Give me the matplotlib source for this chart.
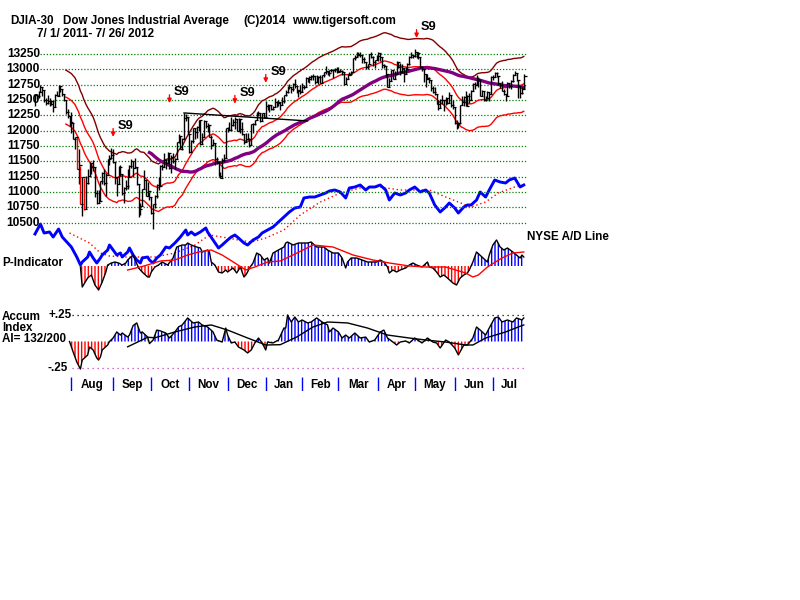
import numpy as np
import pandas as pd
import matplotlib
matplotlib.use("Agg")
import matplotlib.pyplot as plt

plt.rcParams['font.family'] = ['Liberation Sans', 'DejaVu Sans']
plt.rcParams['font.weight'] = 'bold'
plt.rcParams['hatch.linewidth'] = 1.0

# ---- daily DJIA bars, 7/1/2011 .. 7/26/2012 (trading-day index 0..269) ----
close = [
    12582, 12570, 12626, 12719, 12657, 12505, 12446, 12491, 12437, 12479, 12385, 12587, 12572, 12724, 12681, 12592, 12501, 12303, 12240, 12143,
    12132, 11866, 11896, 11383, 11444, 10810, 11239, 10719, 11143, 11269, 11482, 11406, 11410, 10990, 10817, 10854, 11176, 11320, 11150, 11284, 11539, 11560, 11613,
    11494, 11240, 11139, 11414, 11295, 10992, 11062, 11106, 11247, 11433, 11509, 11401, 11408, 11125, 10733, 10771, 11044, 11191, 10939, 11011, 10913,
    10655, 10809, 10940, 11124, 11103, 11433, 11417, 11519, 11479, 11645, 11397, 11578, 11505, 11542, 11809, 11913, 11707, 11869, 12209, 12231, 11955,
    11658, 11836, 12044, 11983, 12069, 12170, 11781, 11894, 12153, 12079, 12096, 11906, 11771, 11796, 11548, 11494, 11258, 11231, 11523, 11556, 12046,
    12020, 12019, 12098, 12150, 12196, 11997, 12184, 12021, 11955, 11824, 11869, 11866, 11766, 12103, 12108, 12170, 12295, 12292, 12151, 12288, 12218,
    12398, 12418, 12415, 12360, 12392, 12462, 12450, 12471, 12422, 12482, 12578, 12624, 12720, 12709, 12676, 12758, 12735, 12660, 12653, 12633,
    12716, 12706, 12862, 12845, 12878, 12884, 12891, 12801, 12874, 12878, 12781, 12904, 12950, 12966, 12938, 12985, 12983, 12982, 13005, 12952,
    12980, 12978, 12963, 12759, 12838, 12908, 12923, 12960, 13177, 13194, 13253, 13233, 13240, 13170, 13125, 13046, 13081, 13242, 13197, 13127, 13146, 13212,
    13264, 13199, 13075, 13060, 12930, 12716, 12806, 12987, 12850, 12921, 13116, 13033, 12965, 13029, 12928, 13002, 13091, 13205, 13229, 13214,
    13280, 13268, 13207, 13038, 13009, 12932, 12835, 12855, 12821, 12695, 12633, 12599, 12443, 12369, 12504, 12502, 12496, 12530, 12455, 12581, 12420, 12393,
    12119, 12102, 12127, 12415, 12461, 12554, 12411, 12574, 12497, 12651, 12767, 12742, 12838, 12824, 12574, 12641, 12503, 12535, 12628, 12602, 12880,
    12871, 12943, 12896, 12773, 12737, 12653, 12605, 12574, 12777, 12727, 12806, 12909, 12943, 12823, 12722, 12618, 12677, 12888,
]
high = [
    12600, 12600, 12650, 12753, 12719, 12657, 12540, 12580, 12530, 12500, 12480, 12600, 12640, 12750, 12730, 12681, 12600, 12500, 12350, 12240,
    12300, 12130, 11904, 11896, 11700, 11433, 11244, 11237, 11270, 11370, 11490, 11480, 11530, 11410, 11030, 11040, 11180, 11330, 11380, 11310, 11540, 11600, 11720,
    11700, 11494, 11240, 11420, 11450, 11295, 11080, 11190, 11380, 11440, 11540, 11509, 11550, 11410, 11125, 10830, 11050, 11360, 11200, 11160, 11010,
    10913, 10810, 10950, 11130, 11250, 11440, 11460, 11630, 11520, 11650, 11645, 11610, 11640, 11560, 11820, 11940, 11913, 11880, 12284, 12270, 12231,
    11955, 11850, 12050, 12044, 12080, 12180, 12170, 11960, 12180, 12153, 12130, 12096, 11930, 11860, 11796, 11580, 11494, 11330, 11560, 11620, 12050,
    12060, 12150, 12230, 12190, 12220, 12196, 12210, 12184, 12140, 11955, 11960, 11960, 11880, 12110, 12130, 12180, 12300, 12320, 12292, 12290, 12288,
    12480, 12430, 12420, 12415, 12400, 12530, 12480, 12500, 12471, 12550, 12590, 12660, 12730, 12760, 12710, 12770, 12840, 12735, 12660, 12750,
    12780, 12740, 12880, 12862, 12890, 12900, 12930, 12891, 12900, 12890, 12900, 12910, 12960, 13050, 12966, 12990, 13000, 13000, 13020, 13040,
    13040, 13000, 12990, 12963, 12870, 12930, 12960, 12970, 13190, 13230, 13290, 13290, 13280, 13240, 13200, 13125, 13090, 13250, 13290, 13210, 13150, 13230,
    13290, 13270, 13199, 13090, 13060, 12930, 12860, 12990, 12987, 12980, 13130, 13116, 13100, 13090, 13029, 13040, 13110, 13220, 13280, 13229,
    13338, 13280, 13290, 13207, 13060, 13009, 12932, 12920, 12880, 12821, 12730, 12710, 12599, 12500, 12510, 12580, 12502, 12550, 12530, 12630, 12581, 12500,
    12393, 12170, 12140, 12420, 12560, 12560, 12650, 12580, 12620, 12670, 12780, 12790, 12900, 12870, 12830, 12660, 12641, 12560, 12650, 12628, 12890,
    12900, 12950, 12960, 12896, 12780, 12810, 12680, 12605, 12790, 12777, 12830, 12930, 12980, 12943, 12823, 12722, 12720, 12930,
]
low = [
    12398, 12520, 12530, 12626, 12560, 12470, 12420, 12440, 12400, 12420, 12300, 12385, 12560, 12570, 12630, 12570, 12490, 12280, 12210, 12070,
    11970, 11860, 11700, 11383, 11140, 10810, 10604, 10711, 10720, 11140, 11270, 11290, 11350, 10920, 10800, 10820, 10850, 11140, 11120, 10930, 11290, 11450, 11560,
    11480, 11140, 10930, 11140, 11260, 10960, 10820, 11030, 11050, 11240, 11400, 11250, 11390, 11120, 10600, 10620, 10770, 11044, 10935, 10930, 10880,
    10650, 10404, 10740, 10900, 11040, 11103, 11360, 11417, 11370, 11480, 11370, 11320, 11470, 11380, 11542, 11800, 11700, 11680, 11870, 12160, 11950,
    11640, 11658, 11800, 11870, 11880, 12000, 11770, 11781, 11894, 12050, 11980, 11900, 11700, 11760, 11450, 11460, 11255, 11230, 11231, 11490, 11556,
    11980, 12010, 12019, 12070, 12030, 11990, 11997, 11960, 11930, 11790, 11824, 11850, 11740, 11766, 11970, 12100, 12170, 12240, 12140, 12151, 12210,
    12218, 12330, 12300, 12330, 12340, 12392, 12390, 12400, 12330, 12422, 12460, 12570, 12610, 12680, 12620, 12640, 12700, 12620, 12550, 12600,
    12633, 12680, 12706, 12800, 12780, 12830, 12830, 12760, 12801, 12760, 12770, 12781, 12880, 12930, 12900, 12890, 12950, 12860, 12950, 12940,
    12952, 12950, 12910, 12740, 12759, 12838, 12900, 12900, 12960, 13150, 13194, 13220, 13200, 13110, 13110, 13000, 13010, 13081, 13190, 13060, 13030, 13146,
    13140, 13130, 13030, 13020, 12880, 12710, 12716, 12806, 12840, 12850, 12921, 13020, 12910, 12965, 12800, 12928, 13002, 13070, 13180, 13180,
    13200, 13180, 13170, 13030, 12980, 12800, 12710, 12835, 12780, 12640, 12610, 12580, 12440, 12340, 12369, 12440, 12320, 12420, 12430, 12455, 12380, 12350,
    12110, 12035, 12050, 12127, 12415, 12400, 12400, 12411, 12460, 12497, 12651, 12680, 12742, 12720, 12560, 12574, 12490, 12480, 12535, 12490, 12602,
    12820, 12871, 12880, 12740, 12700, 12640, 12580, 12490, 12574, 12700, 12680, 12790, 12900, 12810, 12540, 12530, 12600, 12677,
]
big_drop_days = [23, 25, 27]

month_names = ["Aug", "Sep", "Oct", "Nov", "Dec", "Jan", "Feb", "Mar", "Apr", "May", "Jun", "Jul"]
month_starts = [20, 43, 64, 85, 106, 127, 147, 167, 189, 209, 231, 252]

price_levels = list(range(10500, 13251, 250))

signal_days = [43, 74, 110, 127, 210]
signal_tips = [11900, 12450, 12440, 12780, 13510]
trend_days = [82, 150]
trend_prices = [12290, 12160]

# NYSE A/D line (arbitrary units) and its dotted average
ad_days = [0, 3, 5, 8, 10, 13, 15, 18, 20, 23, 25, 26, 29, 30, 32, 34, 36, 37, 40, 41, 43, 45, 47, 48, 51, 52, 54, 56,
           58, 59, 62, 63, 65, 67, 69, 72, 74, 77, 80, 83, 84, 86, 88, 91, 94, 95, 98, 101, 103, 106, 108, 110, 112,
           115, 117, 120, 123, 125, 128, 131, 134, 137, 140, 143, 146, 148, 151, 154, 157, 160, 162, 165, 168, 171,
           173, 176, 179, 182, 184, 187, 190, 193, 195, 198, 201, 204, 206, 209, 212, 215, 217, 220, 223, 226, 228,
           231, 233, 236, 238, 240, 243, 245, 248, 250, 253, 256, 259, 261, 264, 267, 269]
ad_vals = [36, 46, 37, 38, 33, 41, 33, 27, 23, 13, 5, 8, 13, 18, 12, 7, 12, 15, 20, 25, 20, 15, 17, 13, 18, 22, 15, 10,
           7, 12, 13, 10, 7, 12, 15, 23, 22, 27, 33, 40, 35, 38, 35, 38, 42, 38, 30, 22, 25, 30, 33, 35, 32,
           27, 25, 30, 33, 37, 40, 43, 48, 53, 58, 62, 63, 72, 73, 73, 75, 77, 79, 80, 78, 72,
           82, 83, 85, 80, 83, 83, 85, 80, 70, 77, 75, 77, 80, 83, 78, 80, 77, 65, 58, 63, 67,
           62, 57, 63, 65, 65, 70, 78, 73, 80, 90, 88, 87, 90, 92, 83, 85]
ad_ma_days = [19, 30, 36, 41, 50, 60, 66, 77, 88, 96, 103, 112, 119, 127, 137, 146, 157, 168, 179, 190, 201, 217,
              226, 233, 240, 248, 255, 264, 269]
ad_ma_vals = [37, 27, 17, 14, 13, 13, 13, 17, 25, 35, 33, 30, 28, 32, 40, 55, 68, 77, 82, 83, 80, 80,
              73, 68, 63, 68, 77, 83, 85]

# P-Indicator and its average
pind_days = [25, 26, 29, 31, 33, 35, 37, 39, 40, 42, 44, 46, 48, 50, 51, 54, 57, 59, 62, 63, 64, 66, 68, 70, 73, 76,
             78, 81, 83, 84, 86, 89, 91, 92, 95, 96, 97, 99, 101, 103, 105, 106, 109, 111, 113, 115, 116, 117, 118,
             120, 122, 124, 126, 128, 129, 131, 134, 137, 138, 139, 142, 145, 148, 150, 152, 155, 159, 161, 164, 167,
             169, 171, 172, 174, 177, 180, 183, 186, 188, 190, 192, 194, 195, 197, 199, 201, 204, 206, 208, 210, 213,
             216, 217, 219, 221, 223, 225, 227, 230, 232, 234, 236, 238, 239, 241, 243, 246, 249, 250, 252, 254, 256,
             258, 260, 263, 265, 267, 268, 269]
pind_vals = [-1, -21, -12, -9, -19, -24, -16, -6, 1, 3, 4, 3, 1, 3, 6, 11, -2, -6, -11, -11, -6, -1, 1, 4, 1, 8,
             19, 21, 21, 23, 21, 19, 18, 14, 16, 14, 4, 1, -6, -7, -4, -6, -2, -7, -1, -11, -9, -6, -2,
             3, 13, 11, 6, 8, 3, 13, 16, 19, 23, 24, 21, 23, 23, 23, 24, 19, 19, 16, 13, 13,
             8, -2, 4, 8, 8, 6, 4, 4, 4, 6, 4, -1, -7, -4, -6, -4, -2, 1, 3, 1, -1,
             4, -1, -2, -6, -11, -9, -12, -17, -19, -12, -9, -7, -4, 4, 14, 9, 4, 11, 21, 26, 19,
             16, 18, 14, 11, 8, 11, 9]
pind_ma_days = [51, 60, 69, 77, 84, 90, 97, 103, 110, 116, 121, 128, 135, 142, 153, 164, 175, 186, 195, 206,
                215, 226, 237, 241, 244, 249, 257, 263, 269]
pind_ma_vals = [-4, 0, 5, 6, 11, 14, 16, 11, 3, -4, -1, 4, 5, 11, 21, 19, 11, 6, 3, 0,
                -1, -1, -7, -11, -9, -1, 8, 13, 14]

# Accumulation Index and its average
ai_days = [19, 21, 23, 25, 26, 29, 30, 32, 34, 35, 36, 37, 40, 41, 43, 45, 47, 48, 51, 52, 54, 56, 58, 59, 62, 63,
           65, 67, 69, 72, 74, 77, 79, 81, 84, 87, 90, 92, 95, 98, 100, 103, 105, 106, 108, 110, 112, 115, 117, 119,
           121, 123, 125, 127, 128, 131, 134, 137, 138, 139, 141, 143, 145, 147, 150, 152, 155, 158, 161, 162, 164,
           167, 169, 171, 173, 176, 179, 182, 184, 187, 190, 192, 194, 197, 199, 201, 204, 206, 209, 213, 216, 219,
           221, 223, 226, 228, 231, 233, 236, 238, 241, 243, 245, 248, 250, 253, 255, 257, 260, 263, 265, 268, 269]
ai_vals = [0.0, -0.099, -0.193, -0.26, -0.175, -0.127, -0.052, -0.08, -0.156, -0.175, -0.146, -0.08, -0.033, 0.0,
           0.033, 0.09, 0.061, 0.08, 0.042, 0.061, 0.15, 0.175, 0.08, 0.09, 0.042, -0.02,
           0.014, 0.108, 0.1, 0.08, 0.033, 0.09, 0.137, 0.156, 0.222, 0.175, 0.184, 0.156, 0.137, 0.09, 0.014,
           -0.005, 0.127, 0.061, -0.014, -0.005, -0.052, -0.08, -0.108, -0.08,
           -0.014, 0.033, -0.014, -0.08, -0.005, -0.014, 0.014, 0.127, 0.127, 0.25, 0.184, 0.231, 0.184, 0.203,
           0.175, 0.184, 0.222, 0.184, 0.156, 0.09, 0.127,
           0.09, 0.033, 0.061, 0.033, 0.08, 0.033, 0.042, -0.005, 0.014, 0.09, 0.108, 0.033, -0.005, -0.033,
           -0.005, 0.005, -0.014, 0.033, -0.014, 0.033, -0.005,
           -0.014, -0.061, 0.014, -0.005, -0.061, -0.127, -0.033, -0.033, 0.033, 0.137, 0.108, 0.061, 0.127,
           0.222, 0.231, 0.184, 0.203, 0.184, 0.222, 0.203, 0.222]
ai_ma_days = [51, 62, 66, 77, 88, 97, 106, 117, 127, 135, 144, 153, 161, 172, 183, 194, 206, 215, 226, 237, 241,
              248, 259, 266, 269]
ai_ma_vals = [-0.05, 0.04, 0.035, 0.09, 0.137, 0.156, 0.108, 0.033, -0.033, -0.03, 0.042, 0.137, 0.184, 0.175,
              0.127, 0.061, 0.033, 0.014, -0.005, -0.033, -0.033, 0.033, 0.09, 0.137, 0.156]

# ---- layout (pixel geometry of the 800x600 canvas) ----
W, H = 800, 600
X0, X1 = 33, 530          # axes pixel extent
DAY0, PXD = 35, 1.817     # pixel of day 0, pixels per trading day
xlim = ((X0 - DAY0) / PXD, (X1 - DAY0) / PXD)

fig = plt.figure(figsize=(8, 6), dpi=100)
fig.patch.set_facecolor("white")


def px_axes(top, bottom):
    ax = fig.add_axes([X0 / W, 1 - bottom / H, (X1 - X0) / W, (bottom - top) / H])
    ax.set_xlim(*xlim)
    ax.axis("off")
    ax.patch.set_alpha(0)
    return ax


def ftext(x, y, s, **kw):
    fig.text(x / W, 1 - y / H, s, fontsize=8.4, fontweight="bold", va="center", **kw)


MAROON, RED, PURPLE, BLUE, GREEN = "#800000", "#ff0000", "#800080", "#0000ff", "#008000"
days = np.arange(len(close))
cs = pd.Series(close, dtype=float)

# ---- A/D line (drawn first, under the price panel) ----
ax_ad = px_axes(170, 280)
ax_ad.set_ylim(-10, 100)
ax_ad.plot(ad_ma_days, ad_ma_vals, color=RED, lw=1.0, ls=(0, (1, 2)))
ax_ad.plot(ad_days, ad_vals, color=BLUE, lw=2.1, solid_joinstyle="round")

# ---- price panel ----
ax = px_axes(20, 230)
ax.set_ylim(10383.5, 13803.8)
gx0, gx1 = (40 - DAY0) / PXD, (527 - DAY0) / PXD
ax.hlines(price_levels, gx0, gx1, colors=GREEN, linestyles=(0, (1, 1.5)), lw=0.9)
for lvl in price_levels:
    ax.text(gx0, lvl, str(lvl), ha="right", va="center", fontsize=8.6, fontweight="bold")

mid = cs.rolling(21, min_periods=18).mean()
ax.plot(days, mid * 1.035, color=MAROON, lw=1.0)
ax.plot(days, mid, color=RED, lw=1.0)
ax.plot(days, mid * 0.965, color=RED, lw=1.0)
ax.plot(days, cs.rolling(65, min_periods=64).mean(), color=PURPLE, lw=2.4)

bar_colors = ["red" if d in big_drop_days else "black" for d in days]
ax.vlines(days, low, high, colors=bar_colors, lw=1.0)
ax.plot(days, close, ls="none", marker=1, ms=2.2, mew=0.9, color="black")
ax.plot(trend_days, trend_prices, color="black", lw=1.0)

for d, tip in zip(signal_days, signal_tips):
    ax.annotate("", xy=(d, tip), xytext=(d, tip + 135),
                arrowprops=dict(arrowstyle="-|>", color=RED, lw=1.0, mutation_scale=6,
                                shrinkA=0, shrinkB=0), annotation_clip=False)
    ax.text(d + 2.5, tip + 180, "S9", ha="left", va="center", fontsize=9.2, fontweight="bold",
            clip_on=False)

# ---- P-Indicator ----
ax_p = px_axes(230, 300)
ax_p.set_ylim(-34, 36)
pv = np.array(pind_vals, dtype=float)
ax_p.fill_between(pind_days, 0, pv, where=pv >= 0, interpolate=True, facecolor="none",
                  edgecolor=BLUE, hatch="|||||", lw=0)
ax_p.fill_between(pind_days, 0, pv, where=pv <= 0, interpolate=True, facecolor="none",
                  edgecolor=RED, hatch="|||||", lw=0)
ax_p.plot(pind_days, pv, color="black", lw=1.0)
ax_p.plot(pind_ma_days, pind_ma_vals, color=RED, lw=1.0)

# ---- Accumulation Index ----
ax_ai = px_axes(305, 375)
ax_ai.set_ylim((341.5 - 375) / 106, (341.5 - 305) / 106)
lx0 = (72 - DAY0) / PXD
ax_ai.hlines(0.25, lx0, gx1, colors="black", linestyles=(0, (1, 3)), lw=0.9)
ax_ai.hlines(-0.25, lx0, gx1, colors="#c040c0", linestyles=(0, (1, 3)), lw=0.9)
av = np.array(ai_vals, dtype=float)
ax_ai.fill_between(ai_days, 0, av, where=av >= 0, interpolate=True, facecolor="none",
                   edgecolor=BLUE, hatch="|||||", lw=0)
ax_ai.fill_between(ai_days, 0, av, where=av <= 0, interpolate=True, facecolor="none",
                   edgecolor=RED, hatch="|||||", lw=0)
ax_ai.plot(ai_days, av, color="black", lw=1.0)
ax_ai.plot(ai_ma_days, ai_ma_vals, color="black", lw=1.0)
ax_ai.text(lx0, 0.25, "+.25", ha="right", va="center", fontsize=8.4, fontweight="bold")
ax_ai.text((68 - DAY0) / PXD, -0.25, "-.25", ha="right", va="center", fontsize=8.4, fontweight="bold")

# ---- month axis ----
ax_m = px_axes(377, 391)
ax_m.set_ylim(0, 1)
ax_m.vlines(month_starts, 0, 1, colors=BLUE, lw=1.0)
bounds = month_starts + [len(close)]
for name, a, b in zip(month_names, bounds[:-1], bounds[1:]):
    ax_m.text((a + b) / 2, 0.45, name, ha="center", va="center", fontsize=8.4, fontweight="bold")

# ---- titles and panel labels ----
ftext(10, 21, "DJIA-30")
ftext(63, 21, "Dow Jones Industrial Average")
ftext(243, 21, "(C)2014")
ftext(292, 21, "www.tigersoft.com")
ftext(37, 34, "7/ 1/ 2011- 7/ 26/ 2012")
ftext(527, 237, "NYSE A/D Line")
ftext(2, 263, "P-Indicator")
ftext(2, 317, "Accum")
ftext(2, 328, "Index")
ftext(2, 339, "AI= 132/200")

fig.savefig("out.png", dpi=100, facecolor="white")
